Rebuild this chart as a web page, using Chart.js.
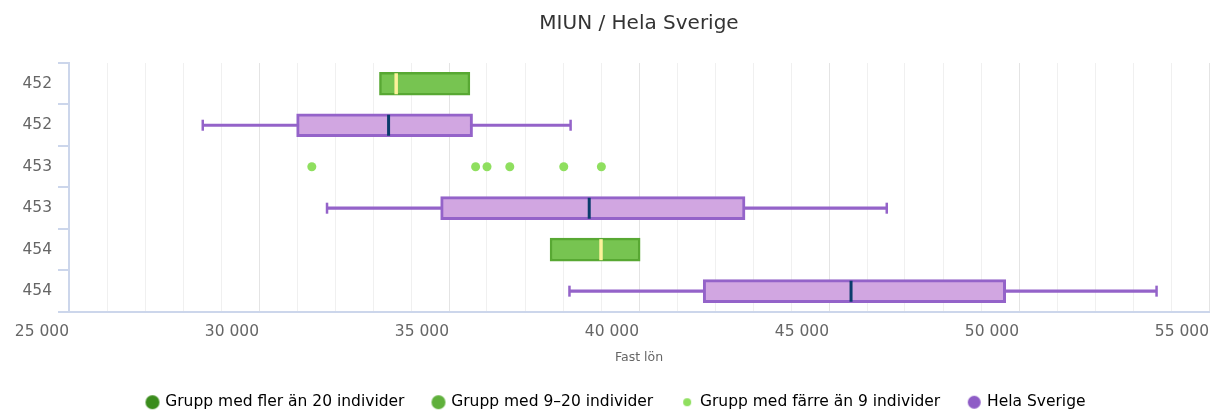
<!DOCTYPE html>
<html>
<head>
<meta charset="utf-8">
<script src="https://cdn.jsdelivr.net/npm/chart.js@4.4.1/dist/chart.umd.min.js"></script>
<style>
html, body { margin: 0; padding: 0; background: #fff; overflow: hidden; }
</style>
</head>
<body>
<!-- canvas is a bit wider than the window, the right strip is cut off -->
<canvas id="chart" width="1223" height="410"></canvas>
<script>
// rows of the chart (top to bottom), keys are unique, labels are shown
var rowKeys = ['r0', 'r1', 'r2', 'r3', 'r4', 'r5'];
var rowLabels = ['452', '452', '453', '453', '454', '454'];

// Grupp med 9-20 individer (boxes without whiskers)
var greenRows = ['r0', 'r4'];
var greenQ1 = [33170, 37660];
var greenMedian = [33610, 39000];
var greenQ3 = [35550, 40030];

// Hela Sverige
var sweRows = ['r1', 'r3', 'r5'];
var sweMin = [28520, 31790, 38170];
var sweQ1 = [30990, 34780, 41690];
var sweMedian = [33410, 38690, 45580];
var sweQ3 = [35620, 42790, 49650];
var sweMax = [38200, 46520, 53620];

// Grupp med färre än 9 individer (single values)
var fewRow = 'r2';
var fewValues = [31390, 35700, 36000, 36600, 38020, 39010];

var xMin = 25000, xMax = 55000;

var legendNames = ['Grupp med fler än 20 individer', 'Grupp med 9–20 individer', 'Grupp med färre än 9 individer', 'Hela Sverige'];
var legendColors = ['#3a8c1c', '#5fb03b', '#8fdf5f', '#8e5cc6'];
var legendSizes = [7, 7, 4, 6.5];

Chart.defaults.font.family = '"DejaVu Sans", sans-serif';

function fmt(v) {
    return String(v).replace(/\B(?=(\d{3})+(?!\d))/g, ' ');
}

function makeDot(color, r) {
    var c = document.createElement('canvas');
    c.width = Math.ceil(r * 2) + 2;
    c.height = Math.ceil(r * 2) + 2;
    var g = c.getContext('2d');
    g.fillStyle = color;
    g.beginPath();
    g.arc(c.width / 2, c.height / 2, r, 0, Math.PI * 2);
    g.fill();
    return c;
}

var greenBoxes = greenRows.map(function (r, i) { return { x: [greenQ1[i], greenQ3[i]], y: r }; });
var greenMeds = greenRows.map(function (r, i) { return { x: greenMedian[i], y: r }; });
var sweBoxes = sweRows.map(function (r, i) { return { x: [sweQ1[i], sweQ3[i]], y: r }; });
var sweWhiskers = sweRows.map(function (r, i) { return { x: [sweMin[i], sweMax[i]], y: r }; });
var sweMeds = sweRows.map(function (r, i) { return { x: sweMedian[i], y: r }; });
var sweCaps = [];
sweRows.forEach(function (r, i) {
    sweCaps.push({ x: sweMin[i], y: r });
    sweCaps.push({ x: sweMax[i], y: r });
});
var fewPoints = fewValues.map(function (v) { return { x: v, y: fewRow }; });

var ctx = document.getElementById('chart');
var chart = new Chart(ctx, {
    type: 'bar',
    data: {
        labels: rowKeys,
        datasets: [
            {
                // dots
                type: 'scatter',
                data: fewPoints,
                pointStyle: 'circle',
                pointRadius: 4.5,
                pointBackgroundColor: '#8fdf5f',
                pointBorderWidth: 0,
                order: 1
            },
            {
                type: 'scatter',
                data: greenMeds,
                pointStyle: 'line',
                pointRotation: 90,
                pointRadius: 10.5,
                pointBorderWidth: 3.5,
                pointBorderColor: '#fdf29a',
                order: 2
            },
            {
                type: 'scatter',
                data: sweMeds,
                pointStyle: 'line',
                pointRotation: 90,
                pointRadius: 10.5,
                pointBorderWidth: 3,
                pointBorderColor: '#0b3c6c',
                order: 2
            },
            {
                type: 'scatter',
                data: sweCaps,
                pointStyle: 'line',
                pointRotation: 90,
                pointRadius: 5.5,
                pointBorderWidth: 2.5,
                pointBorderColor: '#9463c9',
                order: 3
            },
            {
                data: greenBoxes,
                backgroundColor: '#77c451',
                borderColor: '#58a833',
                borderWidth: 2.5,
                borderSkipped: false,
                barThickness: 23,
                grouped: false,
                order: 4
            },
            {
                data: sweBoxes,
                backgroundColor: '#d1a6e1',
                borderColor: '#9463c9',
                borderWidth: 3,
                borderSkipped: false,
                barThickness: 23,
                grouped: false,
                order: 4
            },
            {
                data: sweWhiskers,
                backgroundColor: '#9463c9',
                borderWidth: 0,
                barThickness: 2.5,
                grouped: false,
                order: 5
            }
        ]
    },
    options: {
        indexAxis: 'y',
        responsive: false,
        animation: false,
        events: [],
        layout: {
            padding: { left: 12, right: 2, top: 0, bottom: -10 }
        },
        scales: {
            x: {
                type: 'linear',
                min: xMin,
                max: xMax,
                grid: {
                    drawTicks: false,
                    lineWidth: 1,
                    color: function (c) {
                        return c.tick && c.tick.value % 5000 === 0 ? '#e4e4e4' : '#f0f0f0';
                    }
                },
                border: { color: '#ccd6eb', width: 2 },
                ticks: {
                    stepSize: 1000,
                    autoSkip: false,
                    maxRotation: 0,
                    align: 'end',
                    padding: 11,
                    color: '#666',
                    font: { size: 15.5 },
                    callback: function (v) { return v % 5000 === 0 ? fmt(v) : ''; }
                },
                title: {
                    display: true,
                    text: 'Fast lön',
                    color: '#666',
                    font: { size: 12.5 },
                    padding: { top: -2, bottom: 0 }
                }
            },
            y: {
                type: 'category',
                offset: true,
                grid: {
                    offset: true,
                    drawOnChartArea: false,
                    drawTicks: true,
                    tickLength: 11,
                    lineWidth: 2,
                    color: '#ccd6eb'
                },
                border: { color: '#ccd6eb', width: 2 },
                ticks: {
                    padding: 6,
                    color: '#666',
                    font: { size: 15.5 },
                    callback: function (v, i) { return rowLabels[i]; }
                },
                afterFit: function (scale) { scale.width = 57; }
            }
        },
        plugins: {
            title: {
                display: true,
                text: 'MIUN / Hela Sverige',
                color: '#333',
                fullSize: false,
                font: { size: 20, weight: 'normal' },
                padding: { top: 12, bottom: 27 }
            },
            legend: {
                position: 'bottom',
                onClick: function () {},
                labels: {
                    usePointStyle: true,
                    boxWidth: 10,
                    padding: 29,
                    color: '#333',
                    font: { size: 15.5 },
                    generateLabels: function () {
                        return legendNames.map(function (n, i) {
                            return {
                                text: n,
                                fillStyle: legendColors[i],
                                strokeStyle: legendColors[i],
                                lineWidth: 0,
                                pointStyle: makeDot(legendColors[i], legendSizes[i]),
                                hidden: false,
                                datasetIndex: i
                            };
                        });
                    }
                }
            },
            tooltip: { enabled: false }
        }
    }
});
</script>
</body>
</html>
